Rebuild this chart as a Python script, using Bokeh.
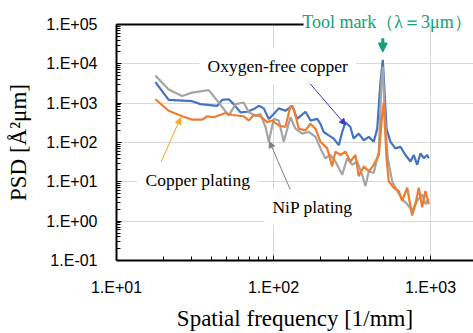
from bokeh.plotting import figure
from bokeh.models import (Range1d, FixedTicker, CustomJSTickFormatter, LogAxis,
                          Label, Arrow, NormalHead)
from bokeh.embed import file_html
from bokeh.resources import INLINE

# Oxygen-free copper (blue)
freq_oxygen = [17.7, 21.5, 30.3, 34.3, 43.8, 47.1, 51.9, 55.8, 61.6, 68.0, 74.9, 80.6,
               86.7, 93.3, 100.4, 108.1, 119.2, 131.6, 141.6, 159.9, 172.2, 189.8, 199.2,
               209, 225, 242, 260.6, 274, 287.5, 309, 324, 349, 376, 405, 435, 458, 480,
               497, 509, 525, 556, 598, 644, 693, 746, 783, 823, 864, 907, 953, 975]
psd_oxygen = [3410, 1210, 1122, 944, 856, 1210, 1259, 944, 586, 606, 708, 856,
              737, 398, 531, 737, 642, 856, 398, 606, 361, 398, 299,
              185, 152, 126, 85.6, 185, 329, 247, 126, 168, 114, 139, 104, 224, 3293,
              12590, 2239, 224, 104, 70.8, 78, 48.1, 32.9, 48.1, 27.1, 53.1, 39.8, 48.1, 39.8]

# Copper plating (orange)
freq_copper = [17.7, 21.5, 26.2, 30.3, 35.2, 37.8, 41.7, 49.4, 54.6, 64.7, 69.6, 74.9,
               82.6, 91.2, 98.1, 108.1, 119.2, 128.3, 134.7, 145, 159.9, 172.2, 185.2,
               199.2, 220, 236.5, 248, 267, 287.5, 309, 333, 349, 376, 405, 435, 469,
               492, 504, 525, 542, 584, 628, 660, 711, 764, 802, 843, 885, 929, 975]
psd_copper = [1259, 642, 465, 382, 382, 465, 439, 562, 501, 465, 361, 501,
              465, 329, 361, 271, 247, 856, 708, 224, 203, 299, 224,
              104, 70.8, 24.7, 58.6, 48.1, 58.6, 32.9, 48.1, 13.9, 24.7, 18.5, 27.1, 48.1,
              481, 1041, 39.8, 10.4, 7.08, 5.85, 3.29, 7.08, 1.39, 2.71, 7.08, 2.24, 5.85, 2.71]

# NiP plating (gray)
freq_nip = [17.7, 21.5, 26.2, 30.3, 38.7, 44.8, 51.9, 57.3, 64.7, 69.6, 76.8, 82.6,
            89.0, 93.3, 100.4, 108.1, 116.3, 128.3, 138, 152.3, 167.8, 185.2, 199.2,
            214, 230.7, 248, 274, 294.6, 317, 341, 367, 385, 405, 435, 469, 487, 497,
            512, 535, 570, 614, 660, 711, 764, 823, 885, 929, 975]
psd_nip = [5012, 2239, 1522, 1851, 2150, 1041, 481, 944, 1041, 586, 481, 531,
           247, 104, 398, 361, 104, 439, 224, 168, 185, 139, 70.8,
           39.8, 48.1, 32.9, 15.2, 39.8, 27.1, 32.9, 15.2, 7.8, 18.5, 16.8, 58.6, 3293, 8560,
           481, 39.8, 10.4, 5.85, 3.61, 2.71, 1.85, 3.29, 4.81, 2.71, 3.61]

x_tick_values = [10, 100, 1000]
x_tick_labels = ["1.E+01", "1.E+02", "1.E+03"]
y_tick_values = [0.1, 1, 10, 100, 1000, 10000, 100000]
y_tick_labels = ["1.E-01", "1.E+00", "1.E+01", "1.E+02", "1.E+03", "1.E+04", "1.E+05"]

tool_mark_freq = 556
tool_mark_text = "Tool mark（λ＝3μm）"

SERIF = "Liberation Serif"
SANS = "Liberation Sans"
GREEN = "#12a07a"
X_MAX = 1880

p = figure(width=473, height=333, x_axis_type="log", y_axis_type="log",
           x_range=Range1d(10, X_MAX), y_range=Range1d(0.1, 1e5),
           output_backend="svg", toolbar_location=None,
           min_border_left=116, min_border_right=0, min_border_top=24, min_border_bottom=70)
p.outline_line_color = None
p.background_fill_color = "white"
p.border_fill_color = "white"

x_minor = [k * 10 ** n for n in range(1, 4) for k in range(2, 10) if k * 10 ** n < X_MAX]
y_minor = [k * 10.0 ** n for n in range(-1, 5) for k in range(2, 10)]

fmt_code = """
for (let i = 0; i < vals.length; i++) {
  if (Math.abs(Math.log10(tick) - Math.log10(vals[i])) < 1e-6) return labels[i];
}
return "";
"""
p.xaxis.ticker = FixedTicker(ticks=x_tick_values, minor_ticks=x_minor)
p.xaxis.formatter = CustomJSTickFormatter(args=dict(vals=x_tick_values, labels=x_tick_labels), code=fmt_code)
p.yaxis.ticker = FixedTicker(ticks=y_tick_values, minor_ticks=y_minor)
p.yaxis.formatter = CustomJSTickFormatter(args=dict(vals=y_tick_values, labels=y_tick_labels), code=fmt_code)

for ax in (p.xaxis, p.yaxis):
    ax.axis_line_color = "black"
    ax.axis_line_width = 2
    ax.major_tick_in = 5
    ax.major_tick_out = 0
    ax.minor_tick_in = 4
    ax.minor_tick_out = 0
    ax.major_tick_line_color = "black"
    ax.minor_tick_line_color = "black"
    ax.major_label_text_font = SANS
    ax.major_label_text_font_size = "16px"
    ax.major_label_text_color = "black"
    ax.axis_label_text_font = SERIF
    ax.axis_label_text_font_size = "23px"
    ax.axis_label_text_font_style = "normal"
    ax.axis_label_text_color = "black"

p.xaxis.axis_label = "Spatial frequency [1/mm]"
p.yaxis.axis_label = "PSD [Å²μm]"
p.xaxis.major_label_standoff = 18
p.yaxis.major_label_standoff = 19
p.xaxis.axis_label_standoff = 7
p.yaxis.axis_label_standoff = 12

# top border line, stopping where the tool-mark caption begins
top_axis = LogAxis(ticker=FixedTicker(ticks=[]), axis_line_color="black", axis_line_width=2,
                   major_tick_in=0, major_tick_out=0, minor_tick_in=0, minor_tick_out=0,
                   major_label_text_font_size="0px", bounds=(10, 155.5))
p.add_layout(top_axis, "above")

# caption: a tick label on a second (invisible) top axis, so it may sit across the frame edge
caption_axis = LogAxis(ticker=FixedTicker(ticks=[tool_mark_freq]),
                       formatter=CustomJSTickFormatter(args=dict(caption=tool_mark_text),
                                                       code="return caption;"),
                       axis_line_color=None, major_tick_line_color=None, minor_tick_line_color=None,
                       major_tick_in=0, major_tick_out=0, minor_tick_in=0, minor_tick_out=0,
                       major_label_standoff=-7, major_label_text_font=SERIF,
                       major_label_text_font_size="18px", major_label_text_color=GREEN)
p.add_layout(caption_axis, "above")

p.xgrid.grid_line_color = "#d9d9d9"
p.ygrid.grid_line_color = "#d9d9d9"
p.xgrid.grid_line_width = 1
p.ygrid.grid_line_width = 1
p.ygrid.ticker = FixedTicker(ticks=y_tick_values[:-1])

p.line(freq_oxygen, psd_oxygen, line_color="#4472c4", line_width=2.2)
p.line(freq_nip, psd_nip, line_color="#a5a5a5", line_width=2.2)
p.line(freq_copper, psd_copper, line_color="#ed7d31", line_width=2.2)

# pointer arrows
p.add_layout(Arrow(x_start=18.5, y_start=22.4, x_end=25.6, y_end=422,
                   line_color="#ffa41f", line_width=1,
                   end=NormalHead(size=6, fill_color="#ffa41f", line_color="#ffa41f")))
p.add_layout(Arrow(x_start=154.6, y_start=5012, x_end=287.5, y_end=282,
                   line_color="#3a3acc", line_width=1,
                   end=NormalHead(size=6, fill_color="#3a3acc", line_color="#3a3acc")))
p.add_layout(Arrow(x_start=132.1, y_start=4.73, x_end=94.3, y_end=106,
                   line_color="#7f7f7f", line_width=1,
                   end=NormalHead(size=6, fill_color="#7f7f7f", line_color="#7f7f7f")))
p.add_layout(Arrow(x_start=497, y_start=44670, x_end=497, y_end=19950,
                   line_color=GREEN, line_width=3,
                   end=NormalHead(size=9, fill_color=GREEN, line_color=GREEN)))

def add_label(x, y, text):
    p.add_layout(Label(x=x, y=y, text=text, text_font=SERIF, text_font_size="17.5px",
                       text_color="black", text_align="left", text_baseline="middle",
                       background_fill_color="white", padding=8))

add_label(33.8, 8913, "Oxygen-free copper")
add_label(13.6, 11.2, "Copper plating")
add_label(87.6, 2.24, "NiP plating")

open("out.html", "w").write(file_html(p, INLINE))
